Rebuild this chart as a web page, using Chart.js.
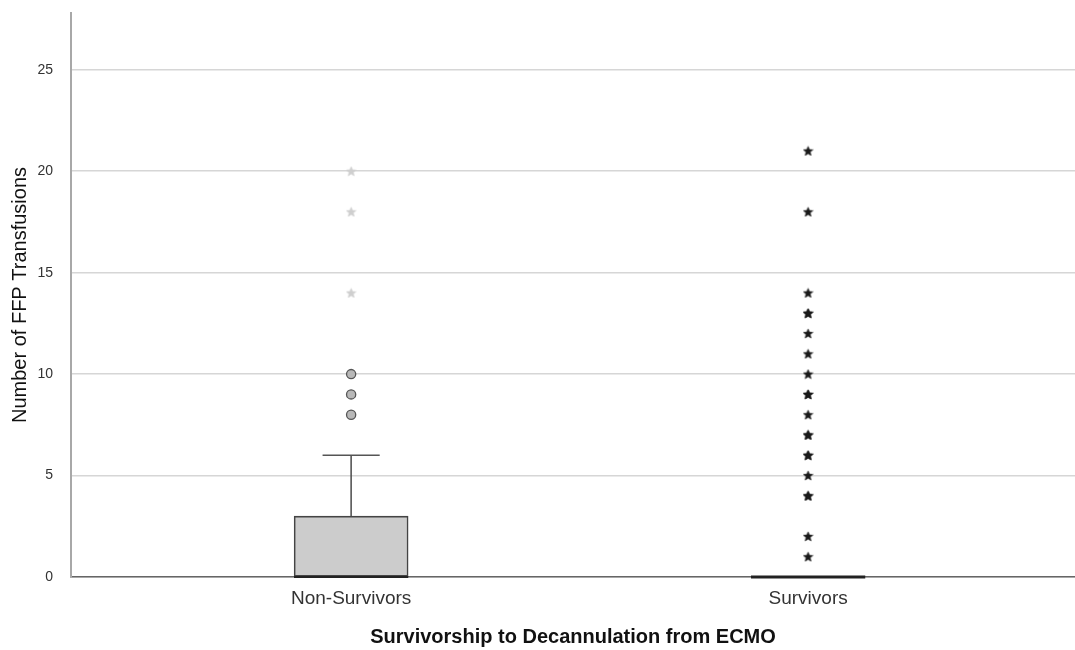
<!DOCTYPE html>
<html>
<head>
<meta charset="utf-8">
<style>
  html, body { margin: 0; padding: 0; background: #ffffff; }
  #wrap { width: 1075px; height: 650px; }
</style>
<script src="https://cdn.jsdelivr.net/npm/chart.js@4.4.1/dist/chart.umd.min.js"></script>
</head>
<body>
<div id="wrap"><canvas id="c" width="1075" height="650"></canvas></div>
<script>
// Boxplot summary per group (number of FFP transfusions)
const categories = ['Non-Survivors', 'Survivors'];
const q1Values = [0, 0];
const medianValues = [0, 0];
const q3Values = [3, 0];
const whiskerLow = [0, 0];
const whiskerHigh = [6, 0];

// Outliers (circles) and extreme values (stars), per group
const nonSurvivorOutliers = [8, 9, 10];
const nonSurvivorExtremes = [14, 18, 20];
const survivorExtremes = [21, 18, 14, 13, 13, 12, 11, 10, 9, 9, 8, 7, 7, 6, 6, 5, 4, 4, 2, 1];

const yTickValues = [0, 5, 10, 15, 20, 25];
const yAxisTitle = 'Number of FFP Transfusions';
const xAxisTitle = 'Survivorship to Decannulation from ECMO';

const FONT = '"Liberation Sans", Arial, sans-serif';
const BOX_HALF = 0.125;   // half box width in category units
const CAP_HALF = 0.0625;  // half whisker-cap width

// Five-pointed star marker drawn on a small canvas
function makeStar(color, size) {
  const cv = document.createElement('canvas');
  cv.width = size; cv.height = size;
  const g = cv.getContext('2d');
  const cx = size / 2, cy = size / 2 + 0.4;
  const ro = size / 2 - 0.5, ri = ro * 0.45;
  g.beginPath();
  for (let i = 0; i < 10; i++) {
    const r = i % 2 === 0 ? ro : ri;
    const a = -Math.PI / 2 + i * Math.PI / 5;
    const px = cx + r * Math.cos(a), py = cy + r * Math.sin(a);
    if (i === 0) g.moveTo(px, py); else g.lineTo(px, py);
  }
  g.closePath();
  g.fillStyle = color;
  g.fill();
  g.lineWidth = 0.6;
  g.strokeStyle = color;
  g.stroke();
  return cv;
}
const starDark = makeStar('#1a1a1a', 11);
const starLight = makeStar('#cfcfcf', 11);

const boxData = categories.map((c, i) => ({ x: i, y: [q1Values[i], q3Values[i]] })).filter(d => d.y[1] > d.y[0]);

const datasets = [];
// boxes
datasets.push({
  type: 'bar',
  data: boxData,
  backgroundColor: '#cccccc',
  borderColor: '#444444',
  borderWidth: 1.6,
  borderSkipped: false,
  barThickness: 114,
  clip: false,
  order: 5
});
// whiskers and caps
categories.forEach((c, i) => {
  if (whiskerHigh[i] > q3Values[i]) {
    datasets.push({ type: 'scatter', showLine: true, data: [{ x: i, y: q3Values[i] }, { x: i, y: whiskerHigh[i] }],
      borderColor: '#555555', borderWidth: 1.6, pointRadius: 0, order: 4 });
    datasets.push({ type: 'scatter', showLine: true, data: [{ x: i - CAP_HALF, y: whiskerHigh[i] }, { x: i + CAP_HALF, y: whiskerHigh[i] }],
      borderColor: '#555555', borderWidth: 1.6, pointRadius: 0, order: 4 });
  }
  if (whiskerLow[i] < q1Values[i]) {
    datasets.push({ type: 'scatter', showLine: true, data: [{ x: i, y: q1Values[i] }, { x: i, y: whiskerLow[i] }],
      borderColor: '#555555', borderWidth: 1.6, pointRadius: 0, order: 4 });
  }
  // median line
  datasets.push({ type: 'scatter', showLine: true, clip: false,
    data: [{ x: i - BOX_HALF, y: medianValues[i] }, { x: i + BOX_HALF, y: medianValues[i] }],
    borderColor: '#222222', borderWidth: q3Values[i] > q1Values[i] ? 2 : 3, pointRadius: 0, order: 3 });
});
// outliers
datasets.push({ type: 'scatter', data: nonSurvivorOutliers.map(v => ({ x: 0, y: v })),
  pointStyle: 'circle', pointRadius: 4.6, backgroundColor: '#b8b8b8', borderColor: '#555555', borderWidth: 1.3, order: 1 });
datasets.push({ type: 'scatter', data: nonSurvivorExtremes.map(v => ({ x: 0, y: v })),
  pointStyle: starLight, order: 1 });
datasets.push({ type: 'scatter', data: survivorExtremes.map(v => ({ x: 1, y: v })),
  pointStyle: starDark, order: 1 });

new Chart(document.getElementById('c'), {
  type: 'scatter',
  data: { datasets },
  options: {
    responsive: false,
    animation: false,
    events: [],
    layout: { autoPadding: false, padding: { top: 13, right: 0, left: 0, bottom: 0 } },
    plugins: { legend: { display: false }, tooltip: { enabled: false } },
    scales: {
      x: {
        type: 'linear',
        offset: false,
        min: -0.613,
        max: 1.584,
        afterBuildTicks: s => { s.ticks = categories.map((c, i) => ({ value: i })); },
        afterFit: s => { s.height = 73; s.paddingLeft = 0; s.paddingRight = 0; },
        ticks: {
          callback: v => categories[v],
          font: { family: FONT, size: 19 },
          color: '#333333',
          padding: 10,
          autoSkip: false,
          maxRotation: 0
        },
        grid: { display: false, drawTicks: false },
        border: { display: true, color: '#666666', width: 1.5 },
        title: {
          display: true,
          text: xAxisTitle,
          font: { family: FONT, size: 20, weight: 'bold' },
          color: '#111111',
          padding: { top: 0, bottom: 1 }
        }
      },
      y: {
        type: 'linear',
        min: 0,
        max: 27.8,
        afterBuildTicks: s => { s.ticks = yTickValues.map(v => ({ value: v })); },
        afterFit: s => { s.width = 71; s.paddingTop = 0; s.paddingBottom = 0; },
        ticks: {
          font: { family: FONT, size: 14 },
          color: '#333333',
          padding: 18
        },
        grid: { color: '#d6d6d6', lineWidth: 1.6, drawTicks: false },
        border: { display: true, color: '#a8a8a8', width: 2 },
        title: {
          display: true,
          text: yAxisTitle,
          font: { family: FONT, size: 20 },
          color: '#111111',
          padding: { top: 8, bottom: 0 }
        }
      }
    }
  }
});
</script>
</body>
</html>
